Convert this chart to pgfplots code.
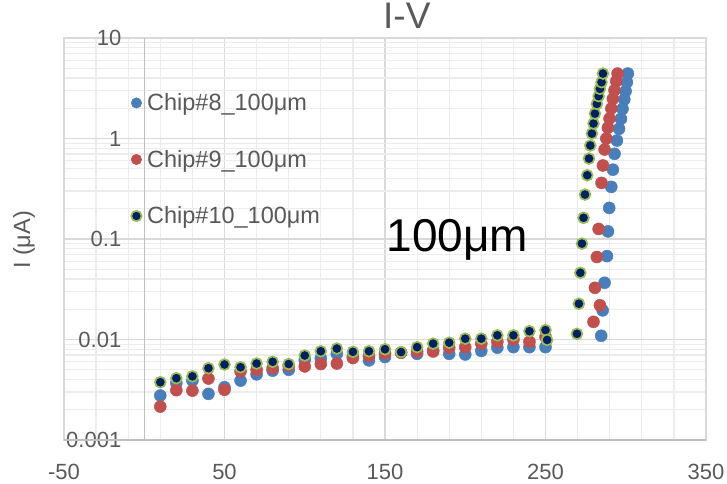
\documentclass[border=0pt]{standalone}
\usepackage{pgfplots}
\pgfplotsset{compat=1.18}
\usepackage{pgfplotstable}
\usepackage{fontspec}
\setmainfont{Liberation Sans}
\definecolor{txt}{HTML}{595959}
\definecolor{gridmaj}{HTML}{D9D9D9}
\definecolor{gridmin}{HTML}{ECECEC}
\definecolor{axgray}{HTML}{BFBFBF}
\definecolor{blueS}{HTML}{4A7EBB}
\definecolor{redS}{HTML}{C0504D}
\definecolor{navyS}{HTML}{002060}
\definecolor{greenS}{HTML}{9BBB59}

\pgfplotstableread{
V I
10 0.00277
20 0.0037
30 0.0039
40 0.00288
50 0.00335
60 0.0039
70 0.0045
80 0.0049
90 0.0050
100 0.0063
110 0.0065
120 0.0072
130 0.0068
140 0.0062
150 0.0067
160 0.0074
170 0.0072
180 0.0078
190 0.0072
200 0.0071
210 0.0077
220 0.0083
230 0.0084
240 0.0084
250 0.0084
284.7 0.0109
285.6 0.0195
286.8 0.0367
288.3 0.0676
288.9 0.119
289.7 0.204
291.0 0.330
292.0 0.49
293.0 0.704
294.5 0.955
295.8 1.25
297.0 1.57
298.0 1.97
299.1 2.44
299.9 2.96
300.7 3.63
301.3 4.43
}\chipA

\pgfplotstableread{
V I
10 0.00215
20 0.00313
30 0.0031
40 0.00409
50 0.00316
60 0.00482
70 0.0050
80 0.0052
90 0.0055
100 0.0054
110 0.0057
120 0.00577
130 0.00654
140 0.00685
150 0.0073
160 0.0074
170 0.0076
180 0.0076
190 0.0083
200 0.0084
210 0.0091
220 0.0095
230 0.0100
240 0.0095
250 0.0106
279.9 0.0150
283.9 0.0219
280.8 0.0327
282.0 0.0662
283.1 0.126
284.9 0.362
285.8 0.539
286.8 0.777
287.9 1.0
288.9 1.28
289.9 1.58
291.0 1.99
292.0 2.48
293.0 3.02
294.1 3.72
294.9 4.43
}\chipB

\pgfplotstableread{
V I
10 0.00376
20 0.00412
30 0.0043
40 0.00518
50 0.00564
60 0.0053
70 0.00577
80 0.0060
90 0.0057
100 0.00693
110 0.00765
120 0.00813
130 0.00754
140 0.00765
150 0.0080
160 0.0075
170 0.0084
180 0.0091
190 0.0093
200 0.0102
210 0.0102
220 0.0110
230 0.0110
240 0.0121
250 0.0124
251 0.0099
269.6 0.0114
270.8 0.0227
271.7 0.0461
272.7 0.090
273.7 0.1625
274.6 0.277
276.0 0.431
277.1 0.632
277.9 0.852
278.9 1.12
279.9 1.41
280.8 1.77
282.0 2.21
283.1 2.64
283.9 3.12
284.9 3.63
285.8 4.43
}\chipC

\begin{document}
\begin{tikzpicture}
\path[use as bounding box] (-64pt,-43pt) rectangle (663pt,440pt);
\begin{axis}[
  scale only axis, width=642pt, height=402pt,
  at={(0pt,0pt)}, anchor=south west,
  xmin=-50, xmax=350, ymin=0.001, ymax=10, ymode=log,
  xtick={-50,50,150,250,350}, xticklabels={-50,50,150,250,350},
  minor x tick num=4,
  ytick={0.001,0.01,0.1,1,10}, yticklabels={0.001,0.01,0.1,1,10},
  grid=both,
  major grid style={draw=gridmaj, line width=1.2pt},
  minor grid style={draw=gridmin, line width=1.2pt},
  axis line style={draw=gridmaj, line width=1.2pt},
  major tick length=0pt, minor tick length=0pt,
  extra x ticks={0}, extra x tick labels={},
  extra y ticks={0.001}, extra y tick labels={},
  extra tick style={major grid style={draw=axgray, line width=1.3pt}},
  xticklabel style={font=\fontsize{22}{26}\selectfont, text=txt, anchor=north, inner sep=0pt, yshift=-24pt},
  yticklabel style={font=\fontsize{22}{26}\selectfont, text=txt, anchor=east, inner sep=0pt, xshift=57.5pt},
  title={I-V},
  title style={at={(0.534,1.0075)}, anchor=base, font=\fontsize{37}{44}\selectfont, text=txt, inner sep=0pt},
  ylabel={I (μA)},
  ylabel style={at={(-0.0623,0.4975)}, anchor=center, font=\fontsize{23.5}{28}\selectfont, text=txt},
  legend cell align=left,
  legend style={draw=none, fill=none, at={(0.1044,0.862)}, anchor=north west, inner sep=0pt,
    font=\fontsize{23.5}{28}\selectfont, text=txt, row sep=38pt, nodes={inner sep=0pt},
    /tikz/every odd column/.append style={column sep=5.5pt}},
  legend image code/.code={\draw[#1, mark size=5.2pt] plot coordinates {(0pt,0pt)};},
  clip=false,
]
\addplot[only marks, mark=*, mark size=6pt, mark options={draw=blueS, fill=blueS, line width=0.5pt}] table[x=V,y=I] {\chipA};
\addlegendentry{Chip\#8\_100μm}
\addplot[only marks, mark=*, mark size=6pt, mark options={draw=redS, fill=redS, line width=0.5pt}] table[x=V,y=I] {\chipB};
\addlegendentry{Chip\#9\_100μm}
\addplot[only marks, mark=*, mark size=5.4pt, mark options={draw=greenS, fill=navyS, line width=1.7pt}] table[x=V,y=I] {\chipC};
\addlegendentry{Chip\#10\_100μm}
\node[anchor=base, font=\fontsize{46}{55}\selectfont, text=black, inner sep=0pt] at (axis cs:195.2,0.0756) {100μm};
\end{axis}
\end{tikzpicture}
\end{document}
